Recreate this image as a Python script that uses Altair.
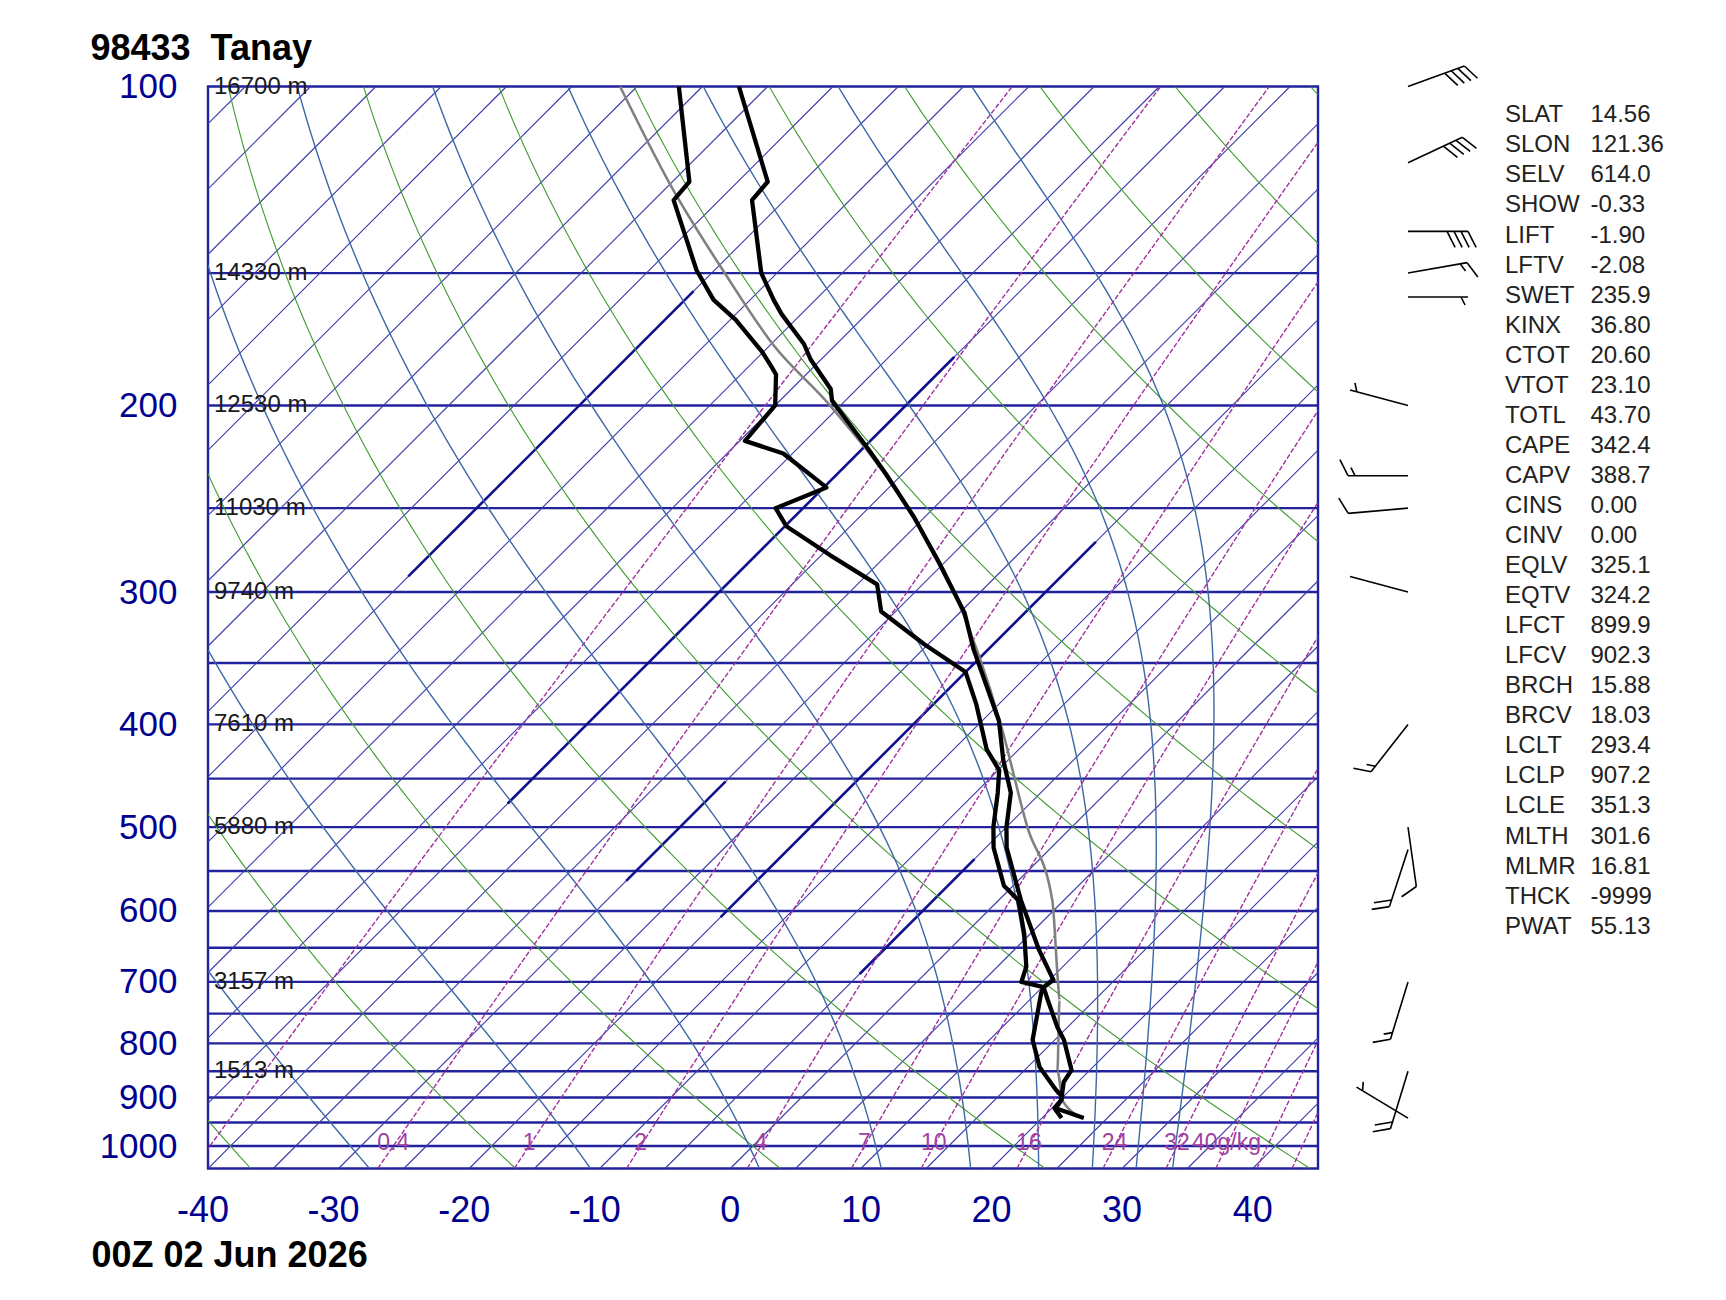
import numpy as np
import pandas as pd
import altair as alt

# ---------------- values ----------------
station_title = "98433  Tanay"
date_text = "00Z 02 Jun 2026"

temp_p = [941, 921, 905, 870, 848, 794, 772, 728, 708, 697, 653, 586, 568, 523, 500, 464, 432, 397,
          340, 314, 281, 255, 232, 220, 198, 193, 181, 175, 164, 159, 150, 137, 128, 123, 100]
temp_T = [23.2, 20.3, 20.1, 18.9, 18.6, 15.7, 14.2, 11.4, 10.1, 10.3, 6.9, 1.7, 0.3, -3.4, -5.0, -7.3, -10.4, -13.7,
          -21.1, -24.6, -30.5, -35.8, -41.3, -44.5, -51.0, -52.0, -55.8, -57.5, -61.5, -63.2, -66.2, -69.8, -72.5, -72.7, -82.2]

dew_p = [941, 921, 905, 898, 885, 842, 794, 728, 718, 708, 700, 677, 630, 586, 568, 523, 500, 464, 442, 422,
         383, 357, 336, 313, 295, 277, 260, 250, 239, 222, 216, 200, 187, 184, 178, 166, 159, 149, 128, 123, 100]
dew_T = [21.5, 20.2, 20.1, 19.9, 18.9, 15.9, 13.3, 10.8, 10.4, 10.1, 8.0, 7.2, 4.5, 1.5, -0.7, -4.4, -6.0, -8.3, -9.9, -12.5,
         -16.7, -20.0, -25.3, -31.1, -33.5, -39.3, -44.9, -47.1, -44.8, -50.7, -54.6, -55.0, -57.3, -58.2, -60.1, -64.6, -67.8, -71.4, -78.5, -78.7, -86.8]

parcel_p = [941, 907, 850, 728, 700, 586, 500, 400, 300, 250, 200, 175, 150, 125, 100]
parcel_T = [23.2, 20.3, 17.6, 12.3, 10.8, 4.1, -3.4, -13.3, -27.0, -37.0, -50.8, -59.9, -69.0, -79.4, -91.3]

height_p = [100, 150, 200, 250, 300, 400, 500, 700, 850]
height_lbl = ["16700 m", "14330 m", "12530 m", "11030 m", "9740 m", "7610 m", "5880 m", "3157 m", "1513 m"]

mixr_lines = [0.1, 0.4, 1, 2, 4, 7, 10, 16, 24, 32, 40, 48, 56]
mixr_labels = [0.4, 1, 2, 4, 7, 10, 16, 24, 32, 40]
mixr_text = ["0.4", "1", "2", "4", "7", "10", "16", "24", "32", "40g/kg"]

theta_C = [-40, -20, 0, 20, 40, 60, 80, 100, 120, 140, 160, 180, 200]
theta_e_C = [-30, -10, 10, 30, 50, 70, 90, 110, 130]
isotherm_T = list(range(-160, 50, 5))
isobar_p = list(range(150, 1001, 50))
thick_iso_T = [-70, -45, -30, -20, -5]
thick_iso_pbot = [290, 475, 562, 608, 688]
thick_iso_ptop = [156, 180, 453, 269, 536]

x_ticks = [-40, -30, -20, -10, 0, 10, 20, 30, 40]
p_ticks = [100, 200, 300, 400, 500, 600, 700, 800, 900, 1000]

barb_p = [100, 118, 137, 150, 158, 200, 233, 250, 300, 400, 500, 525, 700, 850, 941]
barb_dir = [70, 65, 90, 80, 90, 285, 270, 265, 285, 218, 172, 198, 197, 197, 301]
barb_kt = [40, 40, 40, 15, 5, 5, 15, 10, 2, 15, 10, 20, 15, 20, 5]

stat_names = ["SLAT", "SLON", "SELV", "SHOW", "LIFT", "LFTV", "SWET", "KINX", "CTOT", "VTOT", "TOTL",
              "CAPE", "CAPV", "CINS", "CINV", "EQLV", "EQTV", "LFCT", "LFCV", "BRCH", "BRCV", "LCLT",
              "LCLP", "LCLE", "MLTH", "MLMR", "THCK", "PWAT"]
stat_vals = ["14.56", "121.36", "614.0", "-0.33", "-1.90", "-2.08", "235.9", "36.80", "20.60", "23.10",
             "43.70", "342.4", "388.7", "0.00", "0.00", "325.1", "324.2", "899.9", "902.3", "15.88",
             "18.03", "293.4", "907.2", "351.3", "301.6", "16.81", "-9999", "55.13"]

# ---------------- geometry of the diagram ----------------
W, H = 1110, 1082
X_MIN, X_MAX = -40.0, 45.0
P_TOP, P_BOT = 100.0, 1050.0
PX_DEG = W / (X_MAX - X_MIN)
PX_DEC = H / np.log10(P_BOT / P_TOP)
SKEW = PX_DEC / PX_DEG          # 45 degree isotherms


def skx(T, p):
    return np.asarray(T, float) + SKEW * np.log10(P_BOT / np.asarray(p, float))


def es(T):
    return 6.112 * np.exp(17.67 * T / (T + 243.5))


def theta_e(T, p):
    e = np.minimum(es(T), 0.8 * p)
    r = 622.0 * e / (p - e)
    TK = T + 273.15
    return TK * (1000.0 / p) ** (0.2854 * (1 - 0.00028 * r)) * np.exp((3.376 / TK - 0.00254) * r * (1 + 0.00081 * r))


pg = np.logspace(np.log10(P_BOT), np.log10(P_TOP), 90)

rows = []
for th in theta_C:
    T = (th + 273.15) * (pg / 1000.0) ** 0.2857 - 273.15
    for i, (pp, tt) in enumerate(zip(pg, T)):
        rows.append(dict(kind="dry", id=f"d{th}", i=i, p=pp, x=skx(tt, pp)))
for te in theta_e_C:
    target = te + 273.15
    lo = np.full_like(pg, -150.0)
    hi = np.full_like(pg, 60.0)
    for _ in range(60):
        mid = 0.5 * (lo + hi)
        f = theta_e(mid, pg) > target
        hi = np.where(f, mid, hi)
        lo = np.where(f, lo, mid)
    T = 0.5 * (lo + hi)
    for i, (pp, tt) in enumerate(zip(pg, T)):
        rows.append(dict(kind="moist", id=f"m{te}", i=i, p=pp, x=skx(tt, pp)))
for w in mixr_lines:
    e = w * pg / (622.0 + w)
    ln = np.log(e / 6.112)
    Td = 243.5 * ln / (17.67 - ln)
    for i, (pp, tt) in enumerate(zip(pg, Td)):
        rows.append(dict(kind="mixr", id=f"w{w}", i=i, p=pp, x=skx(tt, pp)))
for t in isotherm_T:
    for i, pp in enumerate([P_BOT, P_TOP]):
        rows.append(dict(kind="iso", id=f"t{t}", i=i, p=pp, x=skx(t, pp)))
for t, pb, pt in zip(thick_iso_T, thick_iso_pbot, thick_iso_ptop):
    for i, pp in enumerate([pb, pt]):
        rows.append(dict(kind="isothick", id=f"k{t}", i=i, p=pp, x=skx(t, pp)))
grid = pd.DataFrame(rows)

prof = pd.concat([
    pd.DataFrame(dict(id="temp", i=range(len(temp_p)), p=temp_p, x=skx(temp_T, temp_p))),
    pd.DataFrame(dict(id="dew", i=range(len(dew_p)), p=dew_p, x=skx(dew_T, dew_p))),
])
parcel = pd.DataFrame(dict(id="parcel", i=range(len(parcel_p)), p=parcel_p, x=skx(parcel_T, parcel_p)))

# wind barbs: staff toward the direction the wind blows from, feathers at the outer end
BARB_X = X_MIN + (1408 - 208) / PX_DEG
segs = []
for p0, d, s in zip(barb_p, barb_dir, barb_kt):
    a = np.deg2rad(d)
    ux, uy = np.sin(a), np.cos(a)
    vx, vy = uy, -ux
    L = 60.0

    def add(a0, b0, a1, b1):
        segs.append(dict(x=BARB_X + a0 / PX_DEG, p=p0 * 10 ** (-b0 / PX_DEC),
                         x2=BARB_X + a1 / PX_DEG, p2=p0 * 10 ** (-b1 / PX_DEC)))
    add(0, 0, L * ux, L * uy)
    n10 = int(s) // 10
    n5 = 1 if int(s) % 10 >= 5 else 0
    pos = L if n10 > 0 else L - 7
    for k in range(n10):
        sx, sy = pos * ux, pos * uy
        add(sx, sy, sx + 18 * (0.45 * ux + 0.89 * vx), sy + 18 * (0.45 * uy + 0.89 * vy))
        pos -= 7
    if n5:
        sx, sy = pos * ux, pos * uy
        add(sx, sy, sx + 9 * (0.45 * ux + 0.89 * vx), sy + 9 * (0.45 * uy + 0.89 * vy))
barbs = pd.DataFrame(segs)

# ---------------- chart ----------------
FONT = "Liberation Sans"
NAVY = "#000090"
xs = alt.Scale(domain=[X_MIN, X_MAX], nice=False, zero=False)
ys = alt.Scale(type="log", domain=[P_TOP, P_BOT], nice=False, reverse=True)
yaxis = alt.Axis(values=p_ticks, title=None, grid=False, ticks=False,
                 tickSize=0, domain=False, labelFont=FONT, labelFontSize=35, labelColor=NAVY, labelPadding=31,
                 labelFlush=False, labelExpr="'' + datum.value")
X = alt.X("x:Q", scale=xs, axis=None)
Y = alt.Y("p:Q", scale=ys, axis=yaxis)

base = alt.Chart(grid)


def gridline(kind, color, width, dash=None):
    kw = dict(clip=True, color=color, strokeWidth=width)
    if dash:
        kw["strokeDash"] = dash
    return base.transform_filter(alt.datum.kind == kind).mark_line(**kw).encode(
        x=X, y=Y, detail="id:N", order="i:Q")


isobars = alt.Chart(pd.DataFrame(dict(p=isobar_p))).mark_rule(color="#22229c", strokeWidth=2.4).encode(y=Y)
iso = gridline("iso", "#3a3aaa", 1.1)
isothick = gridline("isothick", "#10108f", 2.6)
dry = gridline("dry", "#3f9a30", 1.1)
moist = gridline("moist", "#3d68a6", 1.4)
mixr = gridline("mixr", "#a032a0", 1.4, [5, 2])

prof_lines = alt.Chart(prof).mark_line(color="black", strokeWidth=4.3, strokeJoin="round").encode(
    x=X, y=Y, detail="id:N", order="i:Q")
parcel_line = alt.Chart(parcel).mark_line(color="#808080", strokeWidth=2.6, interpolate="monotone").encode(
    x=X, y=Y, order="i:Q")

mr_df = pd.DataFrame(dict(p=[1000.0] * len(mixr_labels), x=skx(
    [243.5 * np.log(w * 1000 / (622 + w) / 6.112) / (17.67 - np.log(w * 1000 / (622 + w) / 6.112)) for w in mixr_labels],
    1000.0), t=mixr_text))
mr_text = alt.Chart(mr_df).mark_text(font=FONT, fontSize=23, color="#a040a0", baseline="middle", dy=-3).encode(
    x=X, y=Y, text="t:N")

h_df = pd.DataFrame(dict(p=height_p, t=height_lbl))
h_text = alt.Chart(h_df).mark_text(font=FONT, fontSize=24, color="#1a1a1a", align="left", baseline="middle").encode(
    x=alt.value(6), y=Y, text="t:N")

# temperature labels under the diagram (negative labels sit a little left of their isotherm foot)
xl_df = pd.DataFrame(dict(x=x_ticks, t=[("-" + str(abs(v))) if v < 0 else str(v) for v in x_ticks]))
xl_neg = alt.Chart(xl_df[xl_df.x < 0]).mark_text(font=FONT, fontSize=36, color=NAVY, baseline="middle", dx=-5).encode(
    x=X, y=alt.value(H + 42.5), text="t:N")
xl_pos = alt.Chart(xl_df[xl_df.x >= 0]).mark_text(font=FONT, fontSize=36, color=NAVY, baseline="middle").encode(
    x=X, y=alt.value(H + 42.5), text="t:N")

barb_layer = alt.Chart(barbs).mark_rule(color="black", strokeWidth=1.6).encode(
    x=X, x2="x2:Q", y=Y, y2="p2:Q")

stat_p = [P_TOP * 10 ** ((28.8 + 30.05 * i) / PX_DEC) for i in range(len(stat_names))]
st_df = pd.DataFrame(dict(p=stat_p, n=stat_names, v=stat_vals,
                          xn=[X_MIN + (1505 - 208) / PX_DEG] * len(stat_names),
                          xv=[X_MIN + (1590.5 - 208) / PX_DEG] * len(stat_names)))
st_n = alt.Chart(st_df).mark_text(font=FONT, fontSize=24, color="#222222", align="left", baseline="middle").encode(
    x=alt.X("xn:Q", scale=xs, axis=None), y=Y, text="n:N")
st_v = alt.Chart(st_df).mark_text(font=FONT, fontSize=24, color="#222222", align="left", baseline="middle").encode(
    x=alt.X("xv:Q", scale=xs, axis=None), y=Y, text="v:N")

title = alt.Chart(pd.DataFrame(dict(t=[station_title.replace(" ", "\u00a0")]))).mark_text(
    font=FONT, fontSize=36, fontWeight="bold", color="black", align="left", baseline="alphabetic").encode(
    x=alt.value(-117.5), y=alt.value(-27), text="t:N")
date = alt.Chart(pd.DataFrame(dict(t=[date_text]))).mark_text(
    font=FONT, fontSize=36, fontWeight="bold", color="black", align="left", baseline="alphabetic").encode(
    x=alt.value(-116.5), y=alt.value(H + 98), text="t:N")

chart = alt.layer(
    isobars, iso, isothick, dry, moist, mixr, mr_text, h_text, parcel_line, prof_lines, barb_layer, st_n, st_v,
    xl_neg, xl_pos, title, date
).properties(
    width=W, height=H,
    autosize=alt.AutoSizeParams(type="none"),
    padding={"left": 208, "top": 86.5, "right": 1726 - 208 - W, "bottom": 1300 - 86.5 - H},
    background="white",
).configure_view(stroke="#22229c", strokeWidth=2.4)

chart.save("out.html", embed_options={"renderer": "svg", "actions": False})
